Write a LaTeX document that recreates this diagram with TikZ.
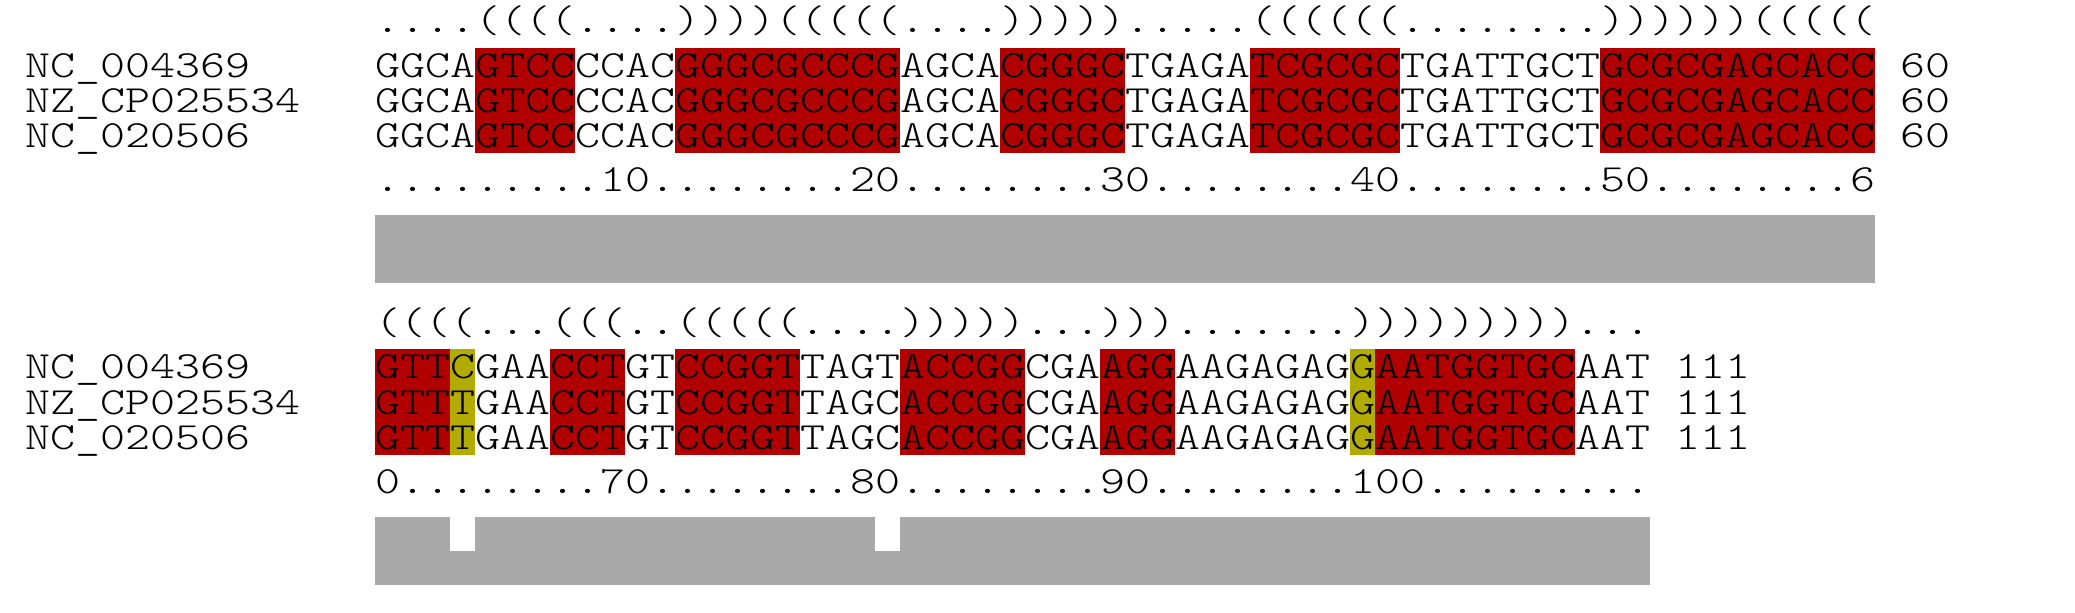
\documentclass[tikz,border=0pt]{standalone}
\usepackage{fontspec}
\newfontfamily\seqfont{Latin Modern Mono Light}[FakeStretch=1.24]
\definecolor{pairred}{HTML}{B00000}
\definecolor{varyellow}{HTML}{B3AC00}
\definecolor{consgray}{HTML}{A9A9A9}

\begin{document}
\begin{tikzpicture}[x=12.5pt, y=-0.5pt,
    txt/.style={font=\fontsize{19.2}{19.2}\seqfont, inner sep=0pt, anchor=base west},
    pair/.style={fill=pairred},
    var/.style={fill=varyellow},
    cons/.style={fill=consgray}]
  \useasboundingbox (-15,0) rectangle (68,612);

  % block 1: columns 1-60
  \foreach \a/\b in {4/8, 12/21, 25/30, 35/41, 49/60} {
    \fill[pair] (\a,47.7) rectangle (\b,153.3);
  }
  \node[txt] (stA) at (0,32.5) {....((((....))))(((((....))))).....((((((........))))))(((((};
  \foreach \r/\name/\seq in {
      0/NC\_004369/GGCAGTCCCCACGGGCGCCCGAGCACGGGCTGAGATCGCGCTGATTGCTGCGCGAGCACC,
      1/NZ\_CP025534/GGCAGTCCCCACGGGCGCCCGAGCACGGGCTGAGATCGCGCTGATTGCTGCGCGAGCACC,
      2/NC\_020506/GGCAGTCCCCACGGGCGCCCGAGCACGGGCTGAGATCGCGCTGATTGCTGCGCGAGCACC
  } {
    \node[txt] (nmA\r) at (-14,{77+35.3*\r}) {\name};
    \node[txt] (sqA\r) at (0,{77+35.3*\r}) {\seq};
    \node[txt] (enA\r) at (61,{77+35.3*\r}) {60};
  }
  \node[txt] (ruA) at (0,191.5) {.........10........20........30........40........50........6};
  \fill[cons] (0,215) rectangle (60,282.7);

  % block 2: columns 61-111
  \foreach \a/\b in {0/3, 7/10, 12/17, 21/26, 29/32, 40/48} {
    \fill[pair] (\a,349.2) rectangle (\b,455.2);
  }
  \foreach \a in {3, 39} {
    \fill[var] (\a,349.2) rectangle (\a+1,455.2);
  }
  \node[txt] (stB) at (0,334) {((((...(((..(((((....)))))...))).......)))))))))...};
  \foreach \r/\name/\seq in {
      0/NC\_004369/GTTCGAACCTGTCCGGTTAGTACCGGCGAAGGAAGAGAGGAATGGTGCAAT,
      1/NZ\_CP025534/GTTTGAACCTGTCCGGTTAGCACCGGCGAAGGAAGAGAGGAATGGTGCAAT,
      2/NC\_020506/GTTTGAACCTGTCCGGTTAGCACCGGCGAAGGAAGAGAGGAATGGTGCAAT
  } {
    \node[txt] (nmB\r) at (-14,{378.8+35.3*\r}) {\name};
    \node[txt] (sqB\r) at (0,{378.8+35.3*\r}) {\seq};
    \node[txt] (enB\r) at (52,{378.8+35.3*\r}) {111};
  }
  \node[txt] (ruB) at (0,493) {0........70........80........90........100.........};
  \fill[cons] (0,516.6) rectangle (51,584.6);
  \foreach \a in {3, 20} {
    \fill[white] (\a,516.6) rectangle (\a+1,550.6);
  }
\end{tikzpicture}
\end{document}
